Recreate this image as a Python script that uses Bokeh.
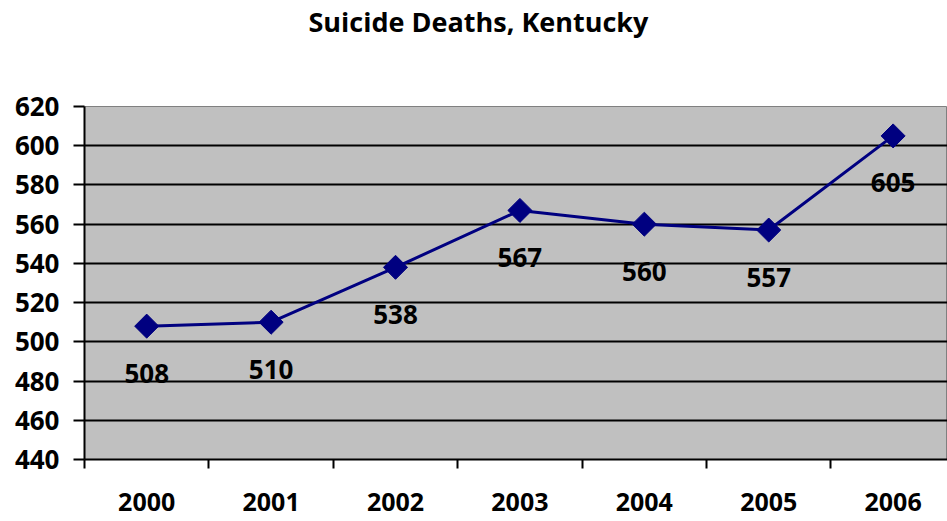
from bokeh.plotting import figure
from bokeh.models import Range1d, FixedTicker, ColumnDataSource, Title
from bokeh.embed import file_html
from bokeh.resources import INLINE
from bokeh.core.properties import value
import math

years = ["2000", "2001", "2002", "2003", "2004", "2005", "2006"]
deaths = [508, 510, 538, 567, 560, 557, 605]
y_ticks = [440, 460, 480, 500, 520, 540, 560, 580, 600, 620]

FONT = "Open Sans"
NAVY = "#000080"

xs = [i + 0.5 for i in range(len(years))]
src = ColumnDataSource(dict(x=xs, y=deaths, label=[str(v) for v in deaths]))

p = figure(width=947, height=521, output_backend="svg", toolbar_location=None,
           x_range=Range1d(0, 6.937), y_range=Range1d(440, 620),
           min_border_left=84, min_border_right=0, min_border_top=106,
           min_border_bottom=62)

p.background_fill_color = "#C0C0C0"
p.border_fill_color = "white"
p.outline_line_color = "#808080"
p.outline_line_width = 1

# blank panel between the frame and the title to push the title up
gap = Title(text=" ", text_font=FONT, text_font_size="27px", standoff=26)
p.add_layout(gap, "above")

t = Title(text="Suicide Deaths, Kentucky", align="left", offset=224,
          vertical_align="top", text_font=FONT, text_font_size="27px",
          text_font_style="bold", text_color="black", standoff=0)
p.add_layout(t, "above")

# y axis
p.yaxis.ticker = FixedTicker(ticks=y_ticks)
p.yaxis.major_label_text_font = FONT
p.yaxis.major_label_text_font_size = "26px"
p.yaxis.major_label_text_font_style = "bold"
p.yaxis.major_label_text_color = "black"
p.yaxis.major_tick_out = 11
p.yaxis.major_tick_in = 0
p.yaxis.minor_tick_out = 0
p.yaxis.minor_tick_in = 0
p.yaxis.major_label_standoff = 14
p.yaxis.axis_line_color = "black"
p.yaxis.axis_line_width = 2
p.yaxis.major_tick_line_width = 2

# x axis: labels at category centres, tick marks at category boundaries
p.xaxis.ticker = FixedTicker(ticks=xs, minor_ticks=list(range(len(years))))
p.xaxis.major_label_overrides = {x: y for x, y in zip(xs, years)}
p.xaxis.major_label_text_font = FONT
p.xaxis.major_label_text_font_size = "25px"
p.xaxis.major_label_text_font_style = "bold"
p.xaxis.major_label_text_color = "black"
p.xaxis.major_tick_out = 0
p.xaxis.major_tick_in = 0
p.xaxis.minor_tick_out = 9
p.xaxis.minor_tick_in = 0
p.xaxis.minor_tick_line_width = 2
p.xaxis.minor_tick_line_color = "black"
p.xaxis.major_label_standoff = 24
p.xaxis.axis_line_color = "black"
p.xaxis.axis_line_width = 2

p.xgrid.grid_line_color = None
p.ygrid.ticker = FixedTicker(ticks=y_ticks[1:-1])
p.ygrid.grid_line_color = "black"
p.ygrid.grid_line_width = 2

p.line("x", "y", source=src, line_color=NAVY, line_width=3)
p.scatter("x", "y", source=src, marker="square", size=17, angle=math.pi / 4,
          fill_color=NAVY, line_color=NAVY)
p.text("x", "y", text="label", source=src, y_offset=47,
       text_align="center", text_baseline="middle",
       text_font=value(FONT), text_font_size="26px", text_font_style="bold",
       text_color="black")

open("out.html", "w").write(file_html(p, INLINE))
